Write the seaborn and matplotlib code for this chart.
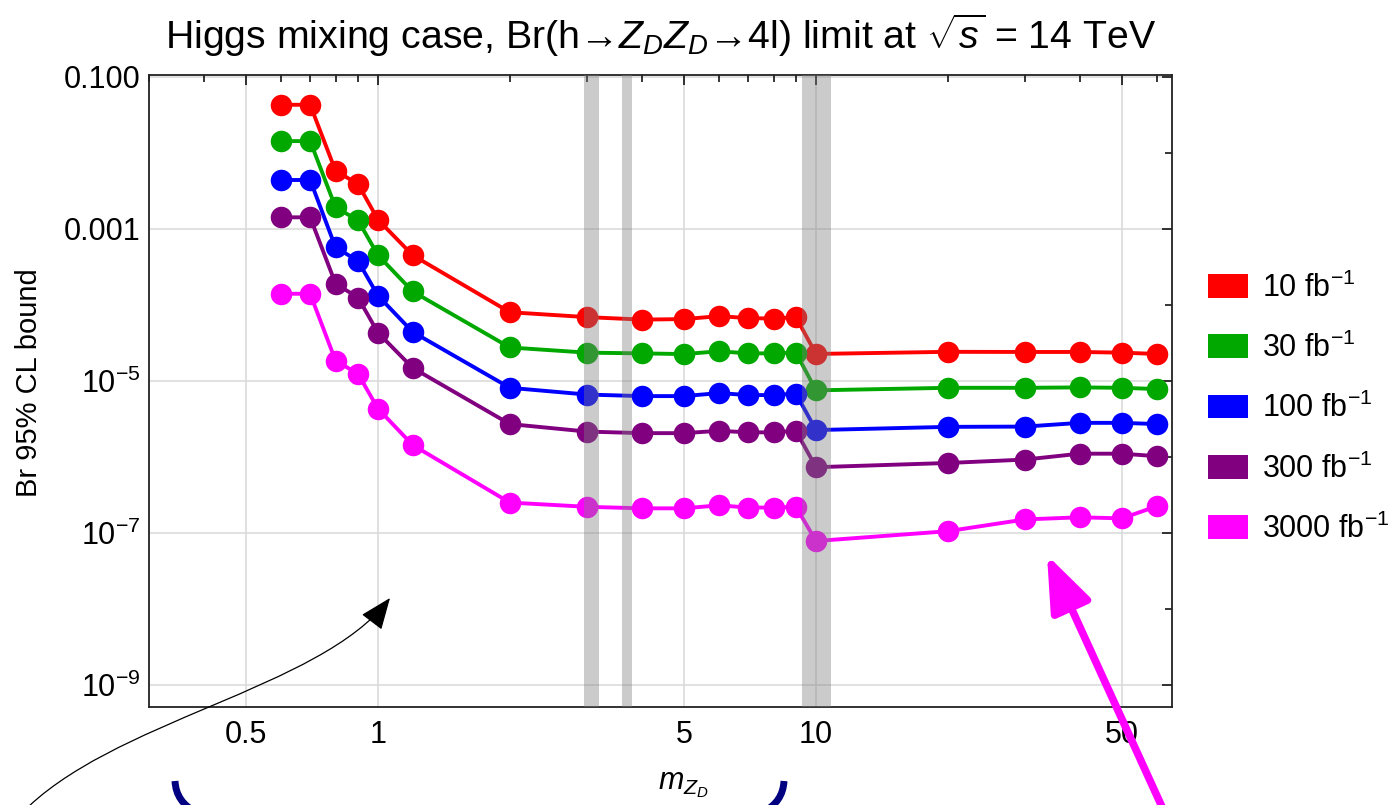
import numpy as np
import pandas as pd
import seaborn as sns
import matplotlib
matplotlib.use("Agg")
import matplotlib.pyplot as plt
from matplotlib.patches import Patch, FancyArrowPatch, PathPatch
from matplotlib.path import Path
from matplotlib.ticker import FixedLocator, FixedFormatter, NullFormatter

# ---------------- data ----------------
mass = [0.6, 0.7, 0.8, 0.9, 1.0, 1.2, 2, 3, 4, 5, 6, 7, 8, 9, 10, 20, 30, 40, 50, 60]
br_10 = [4.3e-2, 4.3e-2, 5.8e-3, 3.9e-3, 1.32e-3, 4.5e-4, 8.0e-5, 6.9e-5, 6.4e-5, 6.5e-5,
         7.1e-5, 6.7e-5, 6.6e-5, 6.9e-5, 2.26e-5, 2.41e-5, 2.4e-5, 2.4e-5, 2.35e-5, 2.26e-5]
br_30 = [1.43e-2, 1.43e-2, 1.92e-3, 1.3e-3, 4.5e-4, 1.5e-4, 2.75e-5, 2.35e-5, 2.3e-5, 2.25e-5,
         2.45e-5, 2.3e-5, 2.3e-5, 2.35e-5, 7.5e-6, 8.1e-6, 8.1e-6, 8.2e-6, 8.1e-6, 7.8e-6]
br_100 = [4.4e-3, 4.4e-3, 5.7e-4, 3.8e-4, 1.32e-4, 4.4e-5, 8.1e-6, 6.6e-6, 6.3e-6, 6.3e-6,
          6.9e-6, 6.5e-6, 6.5e-6, 6.8e-6, 2.25e-6, 2.48e-6, 2.5e-6, 2.8e-6, 2.8e-6, 2.7e-6]
br_300 = [1.42e-3, 1.42e-3, 1.9e-4, 1.25e-4, 4.3e-5, 1.48e-5, 2.7e-6, 2.15e-6, 2.05e-6, 2.05e-6,
          2.2e-6, 2.1e-6, 2.1e-6, 2.2e-6, 7.3e-7, 8.3e-7, 9.2e-7, 1.1e-6, 1.1e-6, 1.02e-6]
br_3000 = [1.4e-4, 1.4e-4, 1.84e-5, 1.24e-5, 4.3e-6, 1.43e-6, 2.5e-7, 2.2e-7, 2.1e-7, 2.1e-7,
           2.3e-7, 2.15e-7, 2.15e-7, 2.2e-7, 7.8e-8, 1.05e-7, 1.5e-7, 1.6e-7, 1.55e-7, 2.24e-7]

lumi_labels = ["10 fb$^{-1}$", "30 fb$^{-1}$", "100 fb$^{-1}$", "300 fb$^{-1}$", "3000 fb$^{-1}$"]
series = [br_10, br_30, br_100, br_300, br_3000]
colors = ["#FF0000", "#00A800", "#0000FF", "#800080", "#FF00FF"]

# resonance veto bands (J/psi, psi(2S), Upsilon)
veto_lo = [2.95, 3.6, 9.3]
veto_hi = [3.2, 3.8, 10.8]

x_major = [0.5, 1, 5, 10, 50]
x_major_labels = ["0.5", "1", "5", "10", "50"]
x_minor = [0.3, 0.4, 0.6, 0.7, 0.8, 0.9, 2, 3, 4, 6, 7, 8, 9, 20, 30, 40, 60]
y_major = [1e-9, 1e-7, 1e-5, 1e-3, 1e-1]
y_major_labels = ["$10^{-9}$", "$10^{-7}$", "$10^{-5}$", "0.001", "0.100"]
y_minor = [1e-8, 1e-6, 1e-4, 1e-2]

df = pd.DataFrame({
    "mass": mass * len(series),
    "br": [v for s in series for v in s],
    "lumi": [lab for lab in lumi_labels for _ in mass],
})

# ---------------- style ----------------
sns.set_style("white")
plt.rcParams["font.family"] = ["Liberation Sans", "DejaVu Sans"]
plt.rcParams["mathtext.fontset"] = "custom"
plt.rcParams["mathtext.rm"] = "Liberation Sans"
plt.rcParams["mathtext.it"] = "Liberation Sans:italic"
plt.rcParams["mathtext.bf"] = "Liberation Sans:bold"
plt.rcParams["text.color"] = "black"
plt.rcParams["axes.labelcolor"] = "black"
plt.rcParams["xtick.color"] = "black"
plt.rcParams["ytick.color"] = "black"

W, H = 1400, 805
fig = plt.figure(figsize=(W / 100, H / 100), dpi=100)
ax = fig.add_axes([149 / W, (H - 707) / H, (1172 - 149) / W, (707 - 75) / H])

def px(x, y):
    return (x / W, 1 - y / H)

# grid
for v in x_major:
    ax.axvline(v, color="#d9d9d9", lw=1.1, zorder=0)
for v in y_major:
    ax.axhline(v, color="#d9d9d9", lw=1.1, zorder=0)

sns.lineplot(data=df, x="mass", y="br", hue="lumi", hue_order=lumi_labels,
             palette=colors, marker="o", markersize=15.5, markeredgewidth=0,
             linewidth=2.8, legend=False, sort=False, ax=ax, zorder=2)

for lo, hi in zip(veto_lo, veto_hi):
    ax.axvspan(lo, hi, color="#7f7f7f", alpha=0.4, lw=0, zorder=3)

ax.set_xscale("log")
ax.set_yscale("log")
ax.set_xlim(0.3, 65)
ax.set_ylim(5.1e-10, 0.106)

ax.xaxis.set_major_locator(FixedLocator(x_major))
ax.xaxis.set_major_formatter(FixedFormatter(x_major_labels))
ax.xaxis.set_minor_locator(FixedLocator(x_minor))
ax.xaxis.set_minor_formatter(NullFormatter())
ax.yaxis.set_major_locator(FixedLocator(y_major))
ax.yaxis.set_major_formatter(FixedFormatter(y_major_labels))
ax.yaxis.set_minor_locator(FixedLocator(y_minor))
ax.yaxis.set_minor_formatter(NullFormatter())

ax.tick_params(which="both", direction="in", top=True, right=True, color="black", width=1.1)
ax.tick_params(which="major", length=7, labelsize=22)
ax.tick_params(which="minor", length=5)
ax.tick_params(axis="x", which="major", pad=9)
ax.tick_params(axis="y", which="major", pad=6)
for sp in ax.spines.values():
    sp.set_color("#222222")
    sp.set_linewidth(1.3)

ax.set_xlabel("$m_{Z_D}$", fontsize=22)
ax.xaxis.set_label_coords((683 - 149) / 1023, (707 - 770) / 632)
ax.set_ylabel("Br 95% CL bound", fontsize=21)
ax.yaxis.set_label_coords((43 - 149) / 1023, (707 - 383) / 632)
ax.set_title("Higgs mixing case, Br(h→$Z_DZ_D$→4l) limit at $\\sqrt{s}$ = 14 TeV",
             fontsize=28.3, pad=19)

handles = [Patch(facecolor=c, edgecolor="none") for c in colors]
fig.legend(handles, lumi_labels, loc="upper left", bbox_to_anchor=px(1196, 260),
           frameon=False, fontsize=22, handlelength=1.3, handleheight=0.82,
           labelspacing=0.95, handletextpad=0.45, borderaxespad=0)

# ---------------- annotations ----------------
curve = Path([px(20, 815), px(110, 720), px(320, 690), px(390, 598)],
             [Path.MOVETO, Path.CURVE4, Path.CURVE4, Path.CURVE4])
fig.add_artist(FancyArrowPatch(path=curve, transform=fig.transFigure,
                               arrowstyle="-|>,head_length=20,head_width=8",
                               mutation_scale=1, color="black", lw=0.9))

fig.add_artist(FancyArrowPatch(posA=px(1168, 820), posB=px(1047, 555), transform=fig.transFigure,
                               arrowstyle="-|>,head_length=34,head_width=13",
                               mutation_scale=1, color="#FF00FF", lw=5.5,
                               shrinkA=0, shrinkB=0))

left_par = Path([px(175, 781), px(176, 802), px(196, 812)],
                [Path.MOVETO, Path.CURVE3, Path.CURVE3])
right_par = Path([px(784, 781), px(783, 802), px(763, 812)],
                 [Path.MOVETO, Path.CURVE3, Path.CURVE3])
for p in (left_par, right_par):
    fig.add_artist(PathPatch(p, transform=fig.transFigure, fill=False,
                             edgecolor="#000080", lw=5, capstyle="butt"))

fig.savefig("out.png", dpi=100)
